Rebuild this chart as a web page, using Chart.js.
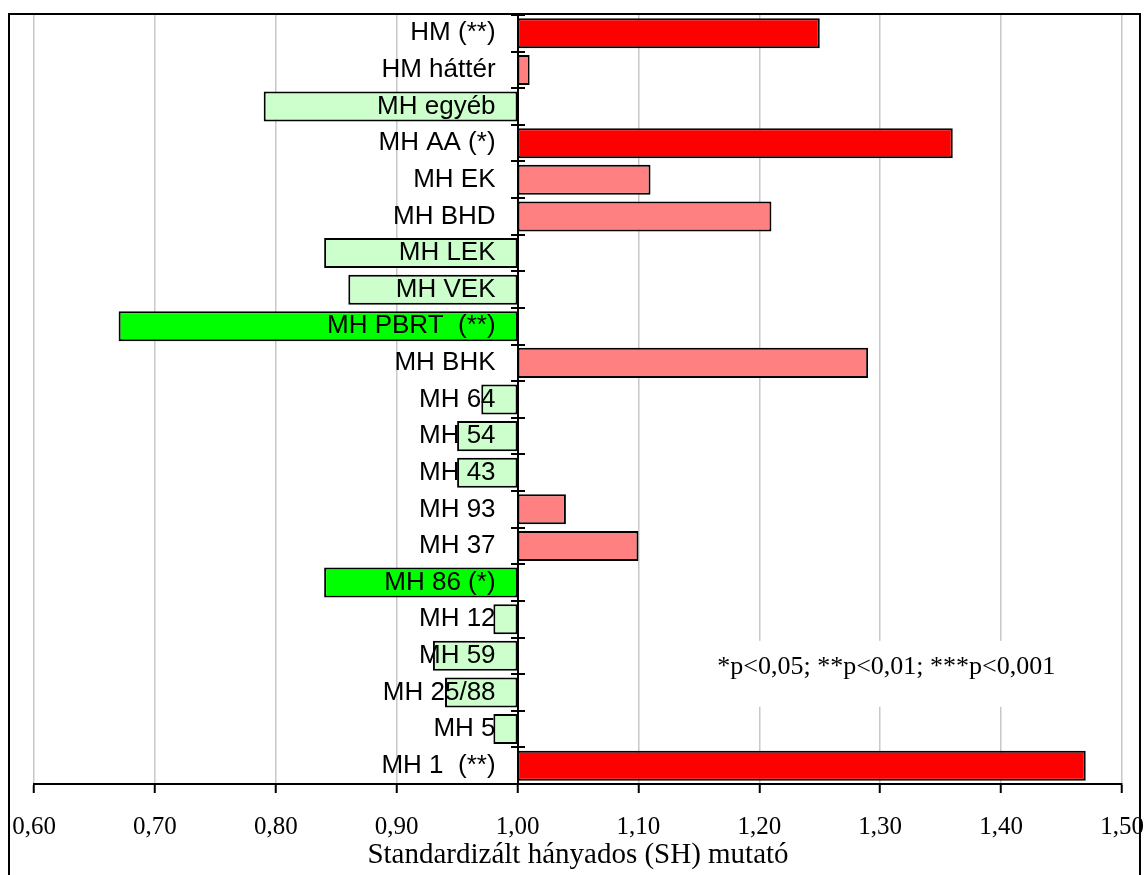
<!DOCTYPE html>
<html>
<head>
<meta charset="utf-8">
<script src="https://cdn.jsdelivr.net/npm/chart.js@4.4.0/dist/chart.umd.min.js"></script>
<style>
  html, body { margin: 0; padding: 0; background: #ffffff; }
  #wrap { width: 1144px; height: 875px; position: relative; }
</style>
</head>
<body>
<div id="wrap"><canvas id="chart" width="1144" height="875"></canvas></div>
<script>
// Categories, top to bottom
const categories = [
  'HM (**)', 'HM háttér', 'MH egyéb', 'MH AA (*)', 'MH EK', 'MH BHD',
  'MH LEK', 'MH VEK', 'MH PBRT  (**)', 'MH BHK', 'MH 64', 'MH 54',
  'MH 43', 'MH 93', 'MH 37', 'MH 86 (*)', 'MH 12', 'MH 59',
  'MH 25/88', 'MH 5', 'MH 1  (**)'
];

// Standardised ratio (SH) per category
const shValues = [
  1.25, 1.01, 0.79, 1.36, 1.11, 1.21,
  0.84, 0.86, 0.67, 1.29, 0.97, 0.95,
  0.95, 1.04, 1.10, 0.84, 0.98, 0.93,
  0.94, 0.98, 1.47
];

// Statistically significant categories
const significant = [
  true, false, false, true, false, false,
  false, false, true, false, false, false,
  false, false, false, true, false, false,
  false, false, true
];

// Value axis ticks
const xTickValues = [0.6, 0.7, 0.8, 0.9, 1.0, 1.1, 1.2, 1.3, 1.4, 1.5];

const baseline = 1.0;
const noteText = '*p<0,05; **p<0,01; ***p<0,001';
const axisTitle = 'Standardizált hányados (SH) mutató';
const categoryLabelGap = 22;

function barColor(v, sig) {
  if (v >= baseline) return sig ? '#ff0000' : '#ff8080';
  return sig ? '#00ff00' : '#ccffcc';
}

// Outer frame around the whole figure
const framePlugin = {
  id: 'frame',
  afterDraw(chart) {
    const ctx = chart.ctx;
    ctx.save();
    ctx.strokeStyle = '#000';
    ctx.lineWidth = 2;
    ctx.strokeRect(9, 14, 1131, 880);
    ctx.restore();
  }
};

// Keep the category labels a little to the left of the 1,00 axis
const labelGap = {
  id: 'labelGap',
  beforeDraw(chart) {
    const items = chart.scales.y.getLabelItems();
    if (items._shifted) return;
    items.forEach(it => { it.options.translation[0] -= categoryLabelGap; });
    items._shifted = true;
  }
};

// Short crossing marks on the 1,00 axis at category boundaries
const boundaryTicks = {
  id: 'boundaryTicks',
  afterDatasetsDraw(chart) {
    const x = chart.scales.x, y = chart.scales.y;
    const x0 = Math.round(x.getPixelForValue(baseline));
    const ctx = chart.ctx;
    ctx.save();
    ctx.strokeStyle = '#000';
    ctx.lineWidth = 2;
    for (let i = 0; i <= categories.length; i++) {
      const py = Math.round(y.getPixelForValue(i - 0.5));
      ctx.beginPath();
      ctx.moveTo(x0 - 7, py);
      ctx.lineTo(x0 + 7, py);
      ctx.stroke();
    }
    ctx.restore();
  }
};

// Significance note with a white backing box
const notePlugin = {
  id: 'note',
  afterDraw(chart) {
    const x = chart.scales.x, y = chart.scales.y;
    const cx = x.getPixelForValue(1.305);
    const cy = y.getPixelForValue(17.3);
    const ctx = chart.ctx;
    ctx.save();
    ctx.font = '26px "Liberation Serif"';
    const w = ctx.measureText(noteText).width;
    ctx.fillStyle = '#ffffff';
    ctx.fillRect(cx - w / 2 - 14, cy - 26, w + 28, 66);
    ctx.fillStyle = '#000';
    ctx.textAlign = 'center';
    ctx.textBaseline = 'middle';
    ctx.fillText(noteText, cx, cy);
    ctx.restore();
  }
};

new Chart(document.getElementById('chart'), {
  type: 'bar',
  data: {
    labels: categories,
    datasets: [{
      data: shValues.map(v => [baseline, v]),
      backgroundColor: shValues.map((v, i) => barColor(v, significant[i])),
      borderColor: '#000000',
      borderWidth: 2,
      borderSkipped: false,
      categoryPercentage: 1.0,
      barPercentage: 0.82
    }]
  },
  options: {
    indexAxis: 'y',
    responsive: false,
    animation: false,
    layout: { padding: { left: 34, right: 22, top: 15, bottom: 0 } },
    plugins: {
      legend: { display: false },
      tooltip: { enabled: false }
    },
    scales: {
      x: {
        type: 'linear',
        position: 'bottom',
        min: 0.6,
        max: 1.5,
        afterBuildTicks(scale) {
          scale.ticks = xTickValues.map(v => ({ value: v }));
        },
        afterFit(scale) {
          scale.paddingLeft = 0;
          scale.paddingRight = 0;
          scale.height = 91;
        },
        ticks: {
          autoSkip: false,
          maxRotation: 0,
          padding: 19,
          color: '#000',
          font: { family: 'Liberation Serif', size: 25 },
          callback: v => Number(v).toFixed(2).replace('.', ',')
        },
        grid: {
          color: '#c8c8c8',
          lineWidth: 1.5,
          tickColor: '#000',
          tickLength: 9,
          tickWidth: 2
        },
        border: { color: '#000', width: 2 },
        title: {
          display: true,
          text: axisTitle,
          color: '#000',
          font: { family: 'Liberation Serif', size: 29 },
          padding: { top: 0, bottom: 2 }
        }
      },
      y: {
        type: 'category',
        position: { x: baseline },
        offset: true,
        afterFit(scale) {
          scale.paddingTop = 0;
          scale.paddingBottom = 0;
        },
        ticks: {
          autoSkip: false,
          padding: 0,
          z: 1,
          color: '#000',
          font: { family: 'Liberation Sans', size: 26 }
        },
        grid: { display: true, drawOnChartArea: false, drawTicks: false, offset: true },
        border: { color: '#000', width: 2, z: 1 }
      }
    }
  },
  plugins: [labelGap, boundaryTicks, notePlugin, framePlugin]
});
</script>
</body>
</html>
